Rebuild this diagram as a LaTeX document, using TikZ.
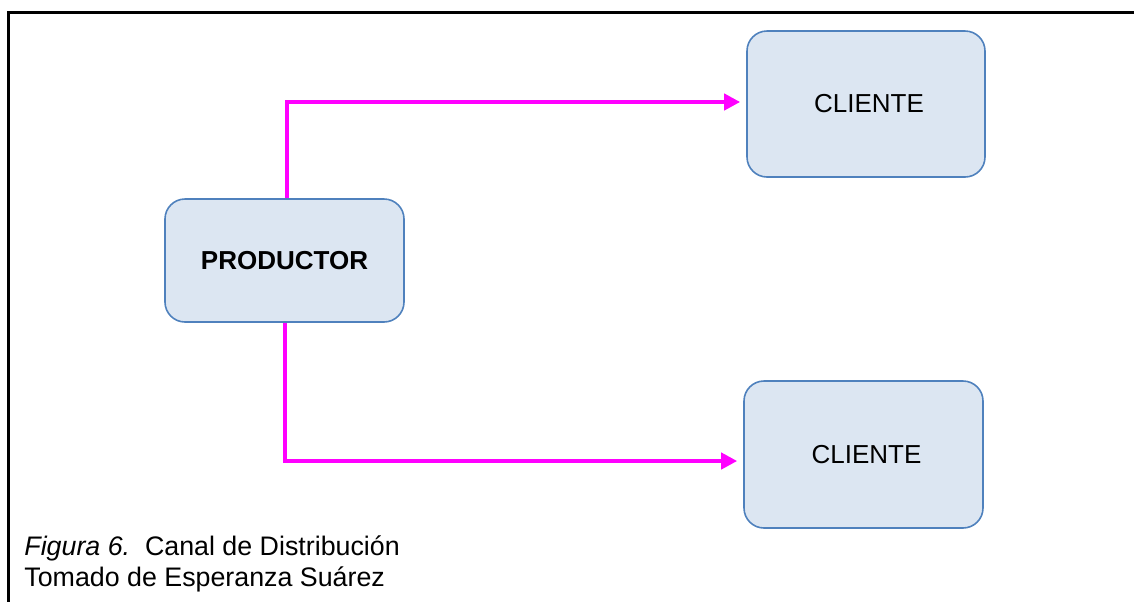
\documentclass[tikz,border=0pt]{standalone}
\usepackage{fontspec}
\setmainfont{Liberation Sans}
\usepackage{tikz}
\usetikzlibrary{arrows.meta}

\definecolor{boxfill}{RGB}{220,230,242}
\definecolor{boxline}{RGB}{79,129,189}
\definecolor{flowpink}{RGB}{255,0,255}

\begin{document}
\begin{tikzpicture}[x=0.5pt, y=-0.5pt,
    every node/.style={font=\fontsize{13}{15.5}\selectfont},
    actor/.style={draw=boxline, line width=0.8pt, fill=boxfill, rounded corners=10pt, inner sep=0pt},
    flow/.style={draw=flowpink, line width=2pt, -{Triangle[length=8pt, width=8pt]}, shorten >=3pt}]
    \useasboundingbox (0,0) rectangle (1134,601);

    %Frame
    \draw[line width=1.5pt] (8,12) rectangle (1150,620);

    %Boxes
    \node[actor, minimum width=119.5pt, minimum height=61.5pt] (prod) at (284.5,260.5) {\textbf{PRODUCTOR}};
    \node[actor, minimum width=119pt, minimum height=73pt] (cli1) at (866,104) {\hspace{3pt}CLIENTE};
    \node[actor, minimum width=119.5pt, minimum height=73.5pt] (cli2) at (863.5,454.5) {\hspace{3pt}CLIENTE};

    %Arrows
    \draw[flow] ([xshift=1.25pt]prod.north) |- ([yshift=1pt]cli1.west);
    \draw[flow] (prod.south) |- ([yshift=-3.25pt]cli2.west);

    %Caption
    \node[anchor=west, align=left, inner sep=0pt, font=\fontsize{13.4}{15.2}\selectfont] (cap) at (24,564)
        {\textit{Figura 6.}\ \ Canal de Distribución\\Tomado de Esperanza Suárez};

\end{tikzpicture}
\end{document}
